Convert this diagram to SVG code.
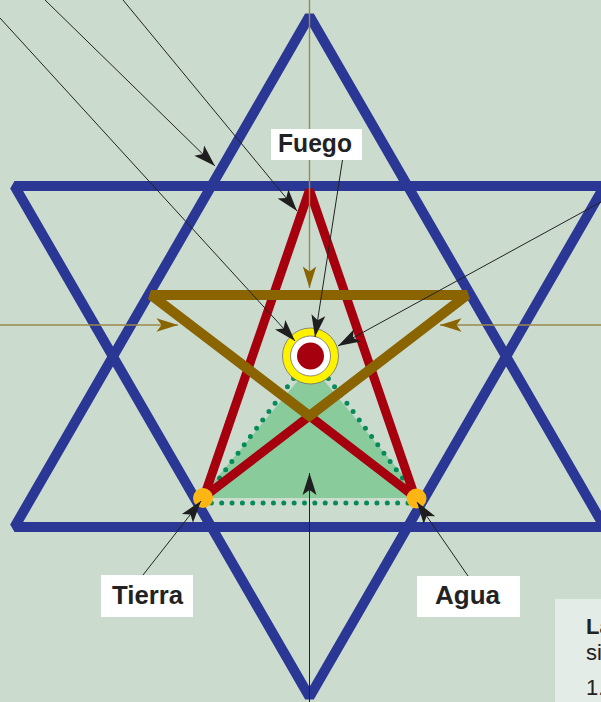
<svg xmlns="http://www.w3.org/2000/svg" width="601" height="702" viewBox="0 0 601 702">
  <defs>
    <style>
      .blue { fill: none; stroke: #2a3795; stroke-width: 10; stroke-linejoin: bevel; }
      .red { fill: none; stroke: #a6000f; stroke-width: 9; stroke-linejoin: miter; stroke-miterlimit: 2; }
      .brown { fill: none; stroke: #8a6400; stroke-width: 10; stroke-linejoin: miter; stroke-miterlimit: 2; }
      .dots { fill: none; stroke: #078a5a; stroke-width: 5; stroke-linecap: round; stroke-dasharray: 0 10.35; }
      .olive { fill: none; stroke: #9b8a4c; stroke-width: 1.4; }
      .ptr { fill: none; stroke: #222; stroke-width: 1; }
      .lbl { fill: #ffffff; }
      .lbltxt { font-family: "Liberation Sans", Arial, sans-serif; font-weight: bold; font-size: 26px; fill: #222; text-anchor: middle; }
      .note { font-family: "Liberation Sans", Arial, sans-serif; font-size: 22px; fill: #222; }
      .orb { fill: #fbb614; }
    </style>
    <marker id="ah" markerUnits="userSpaceOnUse" markerWidth="30" markerHeight="30" refX="0" refY="0" orient="auto" viewBox="-25 -10 30 20" overflow="visible">
      <path d="M0,0 L-22,-7 L-17,0 L-22,7 Z" fill="#1e1e1e"/>
    </marker>
    <marker id="ao" markerUnits="userSpaceOnUse" markerWidth="30" markerHeight="30" refX="0" refY="0" orient="auto" viewBox="-25 -10 30 20" overflow="visible">
      <path d="M0,0 L-21.5,-6.7 L-16.5,0 L-21.5,6.7 Z" fill="#8a6400"/>
    </marker>
  </defs>

  <rect width="601" height="702" fill="#cbdccf"/>

  <g id="star">
    <polygon class="blue" points="309.5,16 14.5,527 604.5,527"/>
    <polygon class="blue" points="14.5,186 604.5,186 309.5,697"/>
  </g>

  <g id="agua-triangle">
    <polygon points="311,365 200,498 422,498" fill="#8acb9c"/>
    <path class="dots" d="M201,503 L421,503 M201,503 L311,355 M421,503 L311,355"/>
  </g>

  <g id="pentagram">
    <path class="red" d="M309.5,416 L204,497 L309.5,190 L415,497 Z"/>
    <path class="brown" d="M309.5,416 L151,295 L467,295 Z"/>
  </g>

  <g id="tierra-point">
    <circle class="orb" cx="203" cy="498" r="10"/>
  </g>
  <g id="agua-point">
    <circle class="orb" cx="416.5" cy="498.5" r="10"/>
  </g>

  <g id="centre">
    <circle cx="310.5" cy="356" r="28" fill="#fff200" stroke="#6f6f6f" stroke-width="0.8"/>
    <circle cx="310.5" cy="356" r="20" fill="#ffffff" stroke="#6f6f6f" stroke-width="0.8"/>
    <circle cx="310.5" cy="356" r="13.5" fill="#a6000f"/>
  </g>

  <g id="connectors">
    <line class="olive" x1="309.5" y1="0" x2="309.5" y2="288" marker-end="url(#ao)"/>
    <line class="olive" x1="0" y1="325" x2="178" y2="325" marker-end="url(#ao)"/>
    <line class="olive" x1="601" y1="325" x2="440" y2="325" marker-end="url(#ao)"/>
    <line class="ptr" x1="0" y1="18" x2="295" y2="341" marker-end="url(#ah)"/>
    <line class="ptr" x1="45" y1="0" x2="215" y2="166" marker-end="url(#ah)"/>
    <line class="ptr" x1="123" y1="0" x2="297" y2="211" marker-end="url(#ah)"/>
    <line class="ptr" x1="342.5" y1="160" x2="315" y2="337" marker-end="url(#ah)"/>
    <line class="ptr" x1="601" y1="202" x2="338" y2="346" marker-end="url(#ah)"/>
    <line class="ptr" x1="143" y1="575" x2="201" y2="501" marker-end="url(#ah)"/>
    <line class="ptr" x1="468" y1="576" x2="417" y2="502" marker-end="url(#ah)"/>
    <line class="ptr" x1="309.5" y1="702" x2="309.5" y2="473" marker-end="url(#ah)"/>
  </g>

  <g id="label-fuego">
    <rect class="lbl" x="271" y="129" width="91" height="31"/>
    <text class="lbltxt" x="315" y="152" textLength="74" lengthAdjust="spacingAndGlyphs">Fuego</text>
  </g>
  <g id="label-tierra">
    <rect class="lbl" x="101" y="575" width="92" height="42"/>
    <text class="lbltxt" x="147.5" y="604" textLength="71" lengthAdjust="spacingAndGlyphs">Tierra</text>
  </g>
  <g id="label-agua">
    <rect class="lbl" x="417" y="576" width="103" height="41"/>
    <text class="lbltxt" x="467.5" y="604" textLength="65" lengthAdjust="spacingAndGlyphs">Agua</text>
  </g>

  <g id="note">
    <rect x="555" y="599" width="50" height="110" fill="#e3ece6"/>
    <text class="note" x="586" y="634" font-weight="bold">La</text>
    <text class="note" x="586" y="660">si</text>
    <text class="note" x="586" y="695">1.</text>
  </g>
</svg>
